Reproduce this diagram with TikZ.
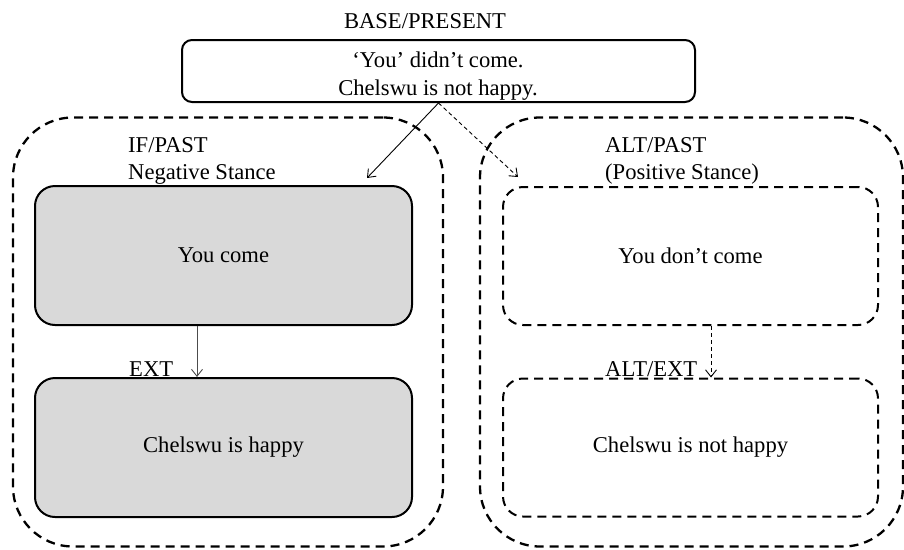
\documentclass[tikz,border=0pt]{standalone}
\usepackage{fontspec}
\setmainfont{Liberation Serif}
\usetikzlibrary{arrows.meta}
\begin{document}
\begin{tikzpicture}[x=1pt,y=-1pt,
  font=\fontsize{22.6}{28}\selectfont,
  container/.style={draw, rectangle, line width=2.3pt, dash pattern=on 9pt off 6pt,
    rounded corners=60pt, inner sep=0pt},
  basebox/.style={draw, rectangle, line width=2pt, rounded corners=10pt,
    minimum width=513pt, minimum height=62pt, inner sep=0pt},
  greybox/.style={draw, rectangle, line width=2pt, rounded corners=20pt, fill=black!15,
    minimum width=377pt, minimum height=139pt, inner sep=0pt},
  altbox/.style={draw, rectangle, line width=2pt, rounded corners=20pt,
    dash pattern=on 9pt off 6pt, minimum width=375pt, minimum height=138pt, inner sep=0pt},
  lbl/.style={inner sep=0pt, anchor=base west},
  arr/.style={line width=0.9pt, -{Straight Barb[length=7pt,width=11pt]}},
  darr/.style={arr, dash pattern=on 4pt off 3pt}
]
\useasboundingbox (0,0) rectangle (904,549);

% containers
\node[container, minimum width=430pt, minimum height=429pt] (ifc) at (228,332) {};
\node[container, minimum width=423pt, minimum height=429pt] (altc) at (691.5,332) {};

% top
\node[anchor=base, inner sep=0pt] (basel) at (425,28) {BASE/PRESENT};
\node[basebox] (base) at (438.5,71) {};
\node[anchor=base, inner sep=0pt] (basetxt1) at (438,67) {`You' didn't come.};
\node[anchor=base, inner sep=0pt] (basetxt2) at (438,95) {Chelswu is not happy.};

% labels
\node[lbl] (ifl1) at (128,152) {IF/PAST};
\node[lbl] (ifl2) at (128,179) {Negative Stance};
\node[lbl] (altl1) at (605,152) {ALT/PAST};
\node[lbl] (altl2) at (605,179) {(Positive Stance)};
\node[lbl] (extl) at (129,376) {EXT};
\node[lbl] (altextl) at (605,376) {ALT/EXT};

% inner boxes
\node[greybox] (a1) at (223.5,255.5) {You come};
\node[greybox] (a2) at (223.5,447.5) {Chelswu is happy};
\node[altbox] (b1) at (690.5,256) {You don’t come};
\node[altbox] (b2) at (690.5,447.5) {Chelswu is not happy};

% connector ends
\coordinate (e1) at (367,178);
\coordinate (e2) at (518,177);
\coordinate (xl) at (197,0);
\coordinate (xr) at (711,0);

\draw[arr] (base.south) -- (e1);
\draw[darr] (base.south) -- (e2);
\draw[arr, draw=black!70] (a1.south -| xl) -- (a2.north -| xl);
\draw[darr] (b1.south -| xr) -- (b2.north -| xr);
\end{tikzpicture}
\end{document}
